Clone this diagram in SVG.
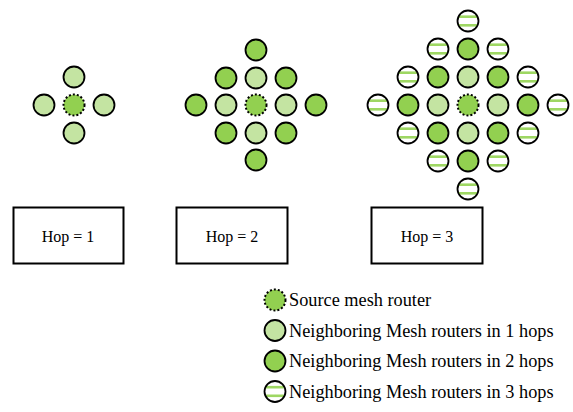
<svg xmlns="http://www.w3.org/2000/svg" xmlns:xlink="http://www.w3.org/1999/xlink" width="573" height="412" viewBox="0 0 573 412">
  <defs>
    <style>
      .ring { stroke: #000; stroke-width: 1.8; }
      .src { fill: #92D050; stroke: #000; stroke-width: 2; stroke-dasharray: 2 2; }
      .h1 { fill: #C4E4A2; }
      .h2 { fill: #92D050; }
      .h3 { fill: #fff; }
      .stripe { fill: #9ED763; }
      .box { fill: #fff; stroke: #000; stroke-width: 2; }
      .hop { font-family: "Liberation Serif", "Times New Roman", serif; font-size: 16px; fill: #000; text-anchor: middle; }
      .leg { font-family: "Liberation Serif", "Times New Roman", serif; font-size: 18.3px; fill: #000; }
    </style>
    <clipPath id="disc"><circle r="10.5"/></clipPath>
    <!-- router symbols, centred on the origin -->
    <g id="r0"><circle r="10.5" class="src"/></g>
    <g id="r1"><circle r="10.5" class="h1 ring"/></g>
    <g id="r2"><circle r="10.5" class="h2 ring"/></g>
    <g id="r3">
      <circle r="10.5" class="h3"/>
      <g clip-path="url(#disc)">
        <rect x="-11" y="-5.6" width="22" height="2.6" class="stripe"/>
        <rect x="-11" y="3" width="22" height="2.6" class="stripe"/>
      </g>
      <circle r="10.5" fill="none" class="ring"/>
    </g>
  </defs>

  <rect width="573" height="412" fill="#fff"/>

  <!-- connectors: none drawn in this figure -->
  <g id="connectors"/>

  <!-- Hop = 1 cluster -->
  <g id="hop1">
    <g id="h1-src"><use xlink:href="#r0" transform="translate(74,105)"/></g>
    <g id="h1-n"><use xlink:href="#r1" transform="translate(74,77)"/></g>
    <g id="h1-w"><use xlink:href="#r1" transform="translate(44,105)"/></g>
    <g id="h1-e"><use xlink:href="#r1" transform="translate(104,105)"/></g>
    <g id="h1-s"><use xlink:href="#r1" transform="translate(74,133)"/></g>
  </g>

  <!-- Hop = 2 cluster -->
  <g id="hop2">
    <g id="h2-0-m2"><use xlink:href="#r2" transform="translate(256,50)"/></g>
    <g id="h2-m1-m1"><use xlink:href="#r2" transform="translate(226,78)"/></g>
    <g id="h2-0-m1"><use xlink:href="#r1" transform="translate(256,78)"/></g>
    <g id="h2-1-m1"><use xlink:href="#r2" transform="translate(286,78)"/></g>
    <g id="h2-m2-0"><use xlink:href="#r2" transform="translate(196,105)"/></g>
    <g id="h2-m1-0"><use xlink:href="#r1" transform="translate(226,105)"/></g>
    <g id="h2-src"><use xlink:href="#r0" transform="translate(256,105)"/></g>
    <g id="h2-1-0"><use xlink:href="#r1" transform="translate(286,105)"/></g>
    <g id="h2-2-0"><use xlink:href="#r2" transform="translate(316,105)"/></g>
    <g id="h2-m1-1"><use xlink:href="#r2" transform="translate(226,133)"/></g>
    <g id="h2-0-1"><use xlink:href="#r1" transform="translate(256,133)"/></g>
    <g id="h2-1-1"><use xlink:href="#r2" transform="translate(286,133)"/></g>
    <g id="h2-0-2"><use xlink:href="#r2" transform="translate(256,160)"/></g>
  </g>

  <!-- Hop = 3 cluster -->
  <g id="hop3">
    <g id="h3-0-m3"><use xlink:href="#r3" transform="translate(468,21)"/></g>
    <g id="h3-m1-m2"><use xlink:href="#r3" transform="translate(438,49)"/></g>
    <g id="h3-0-m2"><use xlink:href="#r2" transform="translate(468,49)"/></g>
    <g id="h3-1-m2"><use xlink:href="#r3" transform="translate(498,49)"/></g>
    <g id="h3-m2-m1"><use xlink:href="#r3" transform="translate(408,77)"/></g>
    <g id="h3-m1-m1"><use xlink:href="#r2" transform="translate(438,77)"/></g>
    <g id="h3-0-m1"><use xlink:href="#r1" transform="translate(468,77)"/></g>
    <g id="h3-1-m1"><use xlink:href="#r2" transform="translate(498,77)"/></g>
    <g id="h3-2-m1"><use xlink:href="#r3" transform="translate(528,77)"/></g>
    <g id="h3-m3-0"><use xlink:href="#r3" transform="translate(378,105)"/></g>
    <g id="h3-m2-0"><use xlink:href="#r2" transform="translate(408,105)"/></g>
    <g id="h3-m1-0"><use xlink:href="#r1" transform="translate(438,105)"/></g>
    <g id="h3-src"><use xlink:href="#r0" transform="translate(468,105)"/></g>
    <g id="h3-1-0"><use xlink:href="#r1" transform="translate(498,105)"/></g>
    <g id="h3-2-0"><use xlink:href="#r2" transform="translate(528,105)"/></g>
    <g id="h3-3-0"><use xlink:href="#r3" transform="translate(558,105)"/></g>
    <g id="h3-m2-1"><use xlink:href="#r3" transform="translate(408,133)"/></g>
    <g id="h3-m1-1"><use xlink:href="#r2" transform="translate(438,133)"/></g>
    <g id="h3-0-1"><use xlink:href="#r1" transform="translate(468,133)"/></g>
    <g id="h3-1-1"><use xlink:href="#r2" transform="translate(498,133)"/></g>
    <g id="h3-2-1"><use xlink:href="#r3" transform="translate(528,133)"/></g>
    <g id="h3-m1-2"><use xlink:href="#r3" transform="translate(438,161)"/></g>
    <g id="h3-0-2"><use xlink:href="#r2" transform="translate(468,161)"/></g>
    <g id="h3-1-2"><use xlink:href="#r3" transform="translate(498,161)"/></g>
    <g id="h3-0-3"><use xlink:href="#r3" transform="translate(468,189)"/></g>
  </g>

  <!-- hop count labels -->
  <g id="label-hop1">
    <rect class="box" x="13.5" y="207.5" width="110" height="56"/>
    <text class="hop" x="68" y="242">Hop = 1</text>
  </g>
  <g id="label-hop2">
    <rect class="box" x="176.5" y="207.5" width="111" height="56"/>
    <text class="hop" x="232" y="242">Hop = 2</text>
  </g>
  <g id="label-hop3">
    <rect class="box" x="371.5" y="207.5" width="111" height="56"/>
    <text class="hop" x="427" y="242">Hop = 3</text>
  </g>

  <!-- legend -->
  <g id="legend">
    <use xlink:href="#r0" transform="translate(275,300)"/>
    <text class="leg" x="289" y="306">Source mesh router</text>
    <use xlink:href="#r1" transform="translate(275,330.5)"/>
    <text class="leg" x="289" y="336.5">Neighboring Mesh routers in 1 hops</text>
    <use xlink:href="#r2" transform="translate(275,361)"/>
    <text class="leg" x="289" y="367">Neighboring Mesh routers in 2 hops</text>
    <use xlink:href="#r3" transform="translate(275,391.5)"/>
    <text class="leg" x="289" y="397.5">Neighboring Mesh routers in 3 hops</text>
  </g>
</svg>
